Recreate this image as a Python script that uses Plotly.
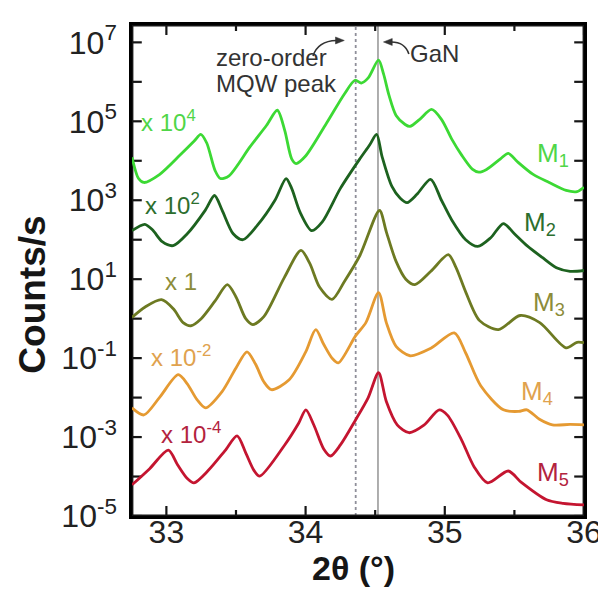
import plotly.graph_objects as go

# ---------------- data (2theta in degrees, log10 of plotted counts/s) ----------------
m1_x = [32.753, 32.80, 32.838, 32.95, 33.10, 33.20, 33.247, 33.29, 33.35, 33.388, 33.45, 33.60, 33.72, 33.797,
        33.85, 33.90, 33.932, 34.00, 34.15, 34.28, 34.355, 34.40, 34.45, 34.524, 34.56, 34.60, 34.65, 34.715,
        34.75, 34.82, 34.905, 34.976, 35.05, 35.12, 35.20, 35.244, 35.30, 35.40, 35.456, 35.52, 35.632, 35.75,
        35.872, 35.95, 36.0]
m1_log = [4.09, 3.55, 3.45, 3.65, 4.15, 4.50, 4.67, 4.45, 3.75, 3.55, 3.62, 4.35, 4.90, 5.28,
          4.77, 4.05, 3.93, 4.12, 4.95, 5.70, 6.04, 5.97, 6.10, 6.55, 6.20, 5.65, 5.15, 4.92,
          4.87, 5.05, 5.30, 5.05, 4.55, 4.15, 3.78, 3.71, 3.78, 4.05, 4.19, 3.98, 3.66, 3.45,
          3.25, 3.22, 3.33]

m2_x = [32.753, 32.845, 32.90, 32.97, 33.049, 33.15, 33.28, 33.346, 33.40, 33.48, 33.55, 33.65, 33.78, 33.86,
        33.90, 33.96, 34.044, 34.12, 34.25, 34.39, 34.46, 34.51, 34.55, 34.62, 34.68, 34.729, 34.80, 34.898,
        34.976, 35.05, 35.15, 35.237, 35.33, 35.421, 35.50, 35.59, 35.70, 35.802, 35.90, 36.0]
m2_log = [2.23, 2.39, 2.25, 1.95, 1.85, 2.15, 2.75, 3.12, 2.75, 2.15, 2.00, 2.35, 3.00, 3.55,
          3.30, 2.70, 2.23, 2.45, 3.30, 4.05, 4.40, 4.67, 4.10, 3.35, 3.05, 2.94, 3.15, 3.53,
          3.00, 2.50, 2.00, 1.83, 2.05, 2.41, 2.15, 1.85, 1.55, 1.29, 1.20, 1.22]

m3_x = [32.753, 32.85, 32.965, 33.05, 33.12, 33.176, 33.25, 33.35, 33.438, 33.50, 33.57, 33.621, 33.70, 33.847,
        33.967, 34.03, 34.10, 34.19, 34.28, 34.39, 34.531, 34.58, 34.65, 34.72, 34.785, 34.90, 35.025, 35.08,
        35.152, 35.25, 35.385, 35.541, 35.682, 35.872, 35.95, 36.0]
m3_log = [0.03, 0.30, 0.48, 0.25, -0.10, -0.18, 0.00, 0.45, 0.86, 0.55, 0.00, -0.15, 0.05, 1.04,
          1.73, 1.40, 0.80, 0.49, 0.95, 1.60, 2.74, 2.20, 1.45, 1.00, 0.86, 1.20, 1.62, 1.30,
          0.66, -0.05, -0.28, 0.08, -0.10, -0.74, -0.60, -0.61]

m4_x = [32.753, 32.838, 32.95, 33.085, 33.15, 33.22, 33.282, 33.40, 33.50, 33.579, 33.64, 33.70, 33.755, 33.882,
        34.00, 34.073, 34.13, 34.19, 34.235, 34.36, 34.433, 34.524, 34.58, 34.65, 34.75, 34.90, 35.068, 35.15,
        35.258, 35.421, 35.53, 35.59, 35.68, 35.773, 35.90, 36.0]
m4_log = [-2.26, -2.44, -2.00, -1.42, -1.65, -2.05, -2.26, -1.85, -1.25, -0.84, -1.15, -1.60, -1.80, -1.55,
          -0.85, -0.28, -0.65, -1.00, -1.12, -0.43, -0.10, 0.66, -0.10, -0.70, -0.94, -0.75, -0.36, -0.87,
          -1.70, -2.31, -2.35, -2.31, -2.55, -2.69, -2.68, -2.69]

m5_x = [32.753, 32.88, 33.014, 33.08, 33.15, 33.198, 33.30, 33.42, 33.508, 33.57, 33.63, 33.67, 33.85, 33.95,
        34.002, 34.06, 34.13, 34.179, 34.25, 34.36, 34.45, 34.524, 34.58, 34.658, 34.743, 34.85, 34.96, 35.02,
        35.12, 35.21, 35.308, 35.456, 35.55, 35.731, 35.85, 36.0]
m5_log = [-4.21, -3.80, -3.33, -3.70, -4.05, -4.16, -3.85, -3.35, -2.97, -3.40, -3.85, -3.99, -3.20, -2.65,
          -2.31, -2.70, -3.30, -3.48, -3.20, -2.56, -2.00, -1.37, -2.10, -2.69, -2.89, -2.70, -2.31, -2.45,
          -3.07, -3.75, -4.16, -3.86, -4.15, -4.59, -4.68, -4.72]

series_names = ["M<sub>1</sub>", "M<sub>2</sub>", "M<sub>3</sub>", "M<sub>4</sub>", "M<sub>5</sub>"]
factor_labels = ["x 10<sup>4</sup>", "x 10<sup>2</sup>", "x 1", "x 10<sup>-2</sup>", "x 10<sup>-4</sup>"]
gan_peak = 34.52
mqw_peak = 34.36
x_ticks = [33, 34, 35, 36]
x_minor = [33.5, 34.5, 35.5]
y_tick_exp = list(range(-5, 8))          # one tick per decade
y_label_exp = [-5, -3, -1, 1, 3, 5, 7]   # labelled decades

# ---------------- styling ----------------
line_colors = ["#3cd934", "#1d621f", "#6d7a22", "#e59a32", "#c41530"]
label_colors = ["#4fd648", "#2c6e2e", "#8c8c3a", "#e0a24e", "#b3233e"]
INK = "#161616"
FONT = "Liberation Sans, Arial, sans-serif"
X_RANGE = [32.753, 36.0]
Y_RANGE = [-5, 7.44]

xs = [m1_x, m2_x, m3_x, m4_x, m5_x]
ls = [m1_log, m2_log, m3_log, m4_log, m5_log]

fig = go.Figure()
for i in range(5):
    fig.add_trace(go.Scatter(
        x=xs[i], y=[10 ** v for v in ls[i]], mode="lines",
        line=dict(color=line_colors[i], width=2.8, shape="spline", smoothing=0.8),
        name=series_names[i], showlegend=False, hoverinfo="skip"))

L, R, T, B = 124, 586, 16, 508
W, H = R - L, B - T


def P(px, py):
    return (px - L) / W, (B - py) / H


shapes = [
    dict(type="line", xref="x", yref="paper", x0=gan_peak, x1=gan_peak, y0=0, y1=1,
         line=dict(color="#9a9a9a", width=1.6), layer="below"),
    dict(type="line", xref="x", yref="paper", x0=mqw_peak, x1=mqw_peak, y0=0, y1=1,
         line=dict(color="#8f8f9a", width=1.8, dash="dot"), layer="below"),
]

# frame and inward ticks on all four sides (drawn in the lower shape layer)
for xv in x_ticks + x_minor:
    ln = (10 if xv in x_ticks else 6) / H
    for y0, y1 in ((0, ln), (1, 1 - ln)):
        shapes.append(dict(type="line", xref="x", yref="paper", x0=xv, x1=xv, y0=y0, y1=y1,
                           line=dict(color=INK, width=2.2), layer="below"))
for e in y_tick_exp:
    yp = (e - Y_RANGE[0]) / (Y_RANGE[1] - Y_RANGE[0])
    ln = 10 / W
    for x0, x1 in ((0, ln), (1, 1 - ln)):
        shapes.append(dict(type="line", xref="paper", yref="paper", x0=x0, x1=x1, y0=yp, y1=yp,
                           line=dict(color=INK, width=2.2), layer="below"))
for x0, y0, x1, y1 in ((0, 0, 1, 0), (0, 1, 1, 1), (0, 0, 0, 1), (1, 0, 1, 1)):
    shapes.append(dict(type="line", xref="paper", yref="paper", x0=x0, y0=y0, x1=x1, y1=y1,
                       line=dict(color=INK, width=2.8), layer="below"))


def curve(p0, c, p1):
    a, b, d = P(*p0), P(*c), P(*p1)
    return f"M {a[0]},{a[1]} Q {b[0]},{b[1]} {d[0]},{d[1]}"


def tri(p0, p1, p2):
    a, b, d = P(*p0), P(*p1), P(*p2)
    return f"M {a[0]},{a[1]} L {b[0]},{b[1]} L {d[0]},{d[1]} Z"


shapes += [
    dict(type="path", xref="paper", yref="paper", path=curve((309, 47), (314, 32), (333, 31.5)),
         line=dict(color="#333333", width=1.6)),
    dict(type="path", xref="paper", yref="paper", path=tri((341, 31.5), (332, 28), (332, 35)),
         fillcolor="#333333", line=dict(color="#333333", width=0.5)),
    dict(type="path", xref="paper", yref="paper", path=curve((407, 45), (403, 33), (389, 33)),
         line=dict(color="#333333", width=1.6)),
    dict(type="path", xref="paper", yref="paper", path=tri((381, 33), (390, 29.5), (390, 36.5)),
         fillcolor="#333333", line=dict(color="#333333", width=0.5)),
]

annotations = []
fac_pos = [(32.80, 5.01), (32.835, 2.90), (32.975, 0.93), (32.877, -0.95), (32.948, -2.89)]
m_pos = [(35.65, 4.17), (35.552, 2.42), (35.622, 0.395), (35.531, -1.88), (35.65, -3.93)]
for i in range(5):
    annotations.append(dict(x=fac_pos[i][0], y=fac_pos[i][1], xref="x", yref="y", text=factor_labels[i],
                            showarrow=False, xanchor="left", yanchor="middle",
                            font=dict(family=FONT, size=24, color=label_colors[i])))
    annotations.append(dict(x=m_pos[i][0], y=m_pos[i][1], xref="x", yref="y", text=series_names[i],
                            showarrow=False, xanchor="left", yanchor="middle",
                            font=dict(family=FONT, size=26, color=label_colors[i])))

for txt, (px, py) in [("zero-order", (267, 49)), ("MQW peak", (272, 75)), ("GaN", (433, 45))]:
    x, y = P(px, py)
    annotations.append(dict(x=x, y=y, xref="paper", yref="paper", text=txt, showarrow=False,
                            xanchor="center", yanchor="middle", font=dict(family=FONT, size=24, color="#333333")))

x, y = P(22, 286)
annotations.append(dict(x=x, y=y, xref="paper", yref="paper", text="<b>Counts/s</b>", showarrow=False,
                        textangle=-90, xanchor="center", yanchor="middle",
                        font=dict(family=FONT, size=37, color=INK)))
x, y = P(350, 560)
annotations.append(dict(x=x, y=y, xref="paper", yref="paper", text="<b>2θ (°)</b>", showarrow=False,
                        xanchor="center", yanchor="middle", font=dict(family=FONT, size=34, color=INK)))

fig.update_layout(
    width=606, height=592,
    margin=dict(l=L, r=606 - R, t=T, b=592 - B),
    paper_bgcolor="#ffffff", plot_bgcolor="#ffffff",
    shapes=shapes, annotations=annotations,
    xaxis=dict(range=X_RANGE, tickmode="array", tickvals=x_ticks, ticktext=[str(v) for v in x_ticks],
               ticks="", showline=True, linecolor="#000000", linewidth=2.5, mirror=True,
               showgrid=False, zeroline=False,
               tickfont=dict(family=FONT, size=32, color="#222222"), ticklabelstandoff=-14),
    yaxis=dict(type="log", range=Y_RANGE, tickmode="array", tickvals=[10.0 ** e for e in y_label_exp],
               ticktext=[f"10<sup>{e}</sup>" for e in y_label_exp],
               ticks="", showline=True, linecolor="#000000", linewidth=2.5, mirror=True,
               showgrid=False, zeroline=False,
               ticklabelstandoff=6, tickfont=dict(family=FONT, size=32, color="#222222")),
)

fig.write_html("out.html")
